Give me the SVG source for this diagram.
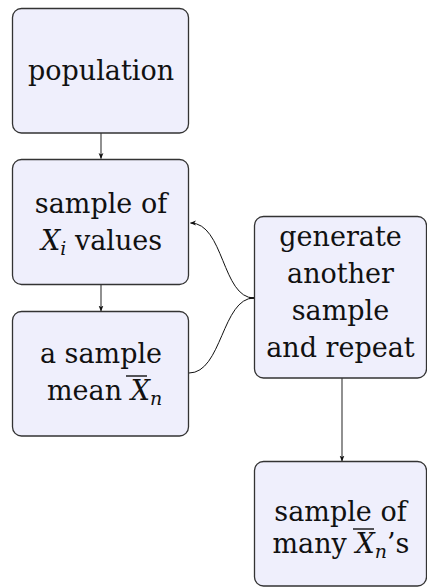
<svg xmlns="http://www.w3.org/2000/svg" width="427" height="587" viewBox="0 0 427 587">
<style>
.box{fill:#efeffc;stroke:#333;stroke-width:1.3}
text{font-family:'DejaVu Serif',serif;font-size:27px;fill:#111}
.m{font-style:italic}
.s{font-style:italic;font-size:19px}
.c{text-anchor:middle}
.ln{fill:none;stroke:#555;stroke-width:1.3}
.cv{fill:none;stroke:#111;stroke-width:1}
.ov{stroke:#111;stroke-width:1.4}
</style>
<defs>
<marker id="ah" viewBox="0 0 10 10" refX="9" refY="5" markerWidth="6" markerHeight="6" markerUnits="userSpaceOnUse" orient="auto">
<path d="M0,1 L10,5 L0,9 L2.5,5 Z" fill="#111"/>
</marker>
</defs>
<g id="connectors">
<line class="ln" x1="101" y1="133" x2="101" y2="158.5" marker-end="url(#ah)"/>
<line class="ln" x1="101" y1="285" x2="101" y2="311" marker-end="url(#ah)"/>
<line class="ln" x1="342" y1="378" x2="342" y2="461" marker-end="url(#ah)"/>
<path class="cv" d="M254,298 C222,298 224,223 190.5,223" marker-end="url(#ah)"/>
<path class="cv" d="M189,373 C222,373 222,298 254,298"/>
<line x1="249" y1="298" x2="255" y2="298" stroke="#111" stroke-width="1.6"/>
</g>
<g id="population">
<rect class="box" x="12.5" y="8.5" width="176" height="124.5" rx="9"/>
<text class="c" x="101" y="80">population</text>
</g>
<g id="sample">
<rect class="box" x="12.5" y="159.5" width="176" height="125" rx="9"/>
<text class="c" x="101" y="213">sample of</text>
<text x="41" y="250"><tspan class="m">X</tspan><tspan class="s" dy="5">i</tspan><tspan dy="-5"> values</tspan></text>
</g>
<g id="mean">
<rect class="box" x="12.5" y="311.5" width="176" height="124.5" rx="9"/>
<text class="c" x="101" y="363">a sample</text>
<text x="47" y="400">mean <tspan class="m">X</tspan><tspan class="s" dy="5">n</tspan></text>
<line class="ov" x1="126" y1="376" x2="147" y2="376"/>
</g>
<g id="generate">
<rect class="box" x="254.5" y="216.5" width="172" height="161.5" rx="9"/>
<text class="c" x="340.5" y="246">generate</text>
<text class="c" x="340.5" y="283">another</text>
<text class="c" x="340.5" y="320">sample</text>
<text class="c" x="340.5" y="357">and repeat</text>
</g>
<g id="many">
<rect class="box" x="254.5" y="461.5" width="172" height="124.5" rx="9"/>
<text class="c" x="340.5" y="521">sample of</text>
<text x="272.5" y="553">many <tspan class="m">X</tspan><tspan class="s" dy="5">n</tspan><tspan dy="-5">’s</tspan></text>
<line class="ov" x1="353" y1="529" x2="374" y2="529"/>
</g>
</svg>
